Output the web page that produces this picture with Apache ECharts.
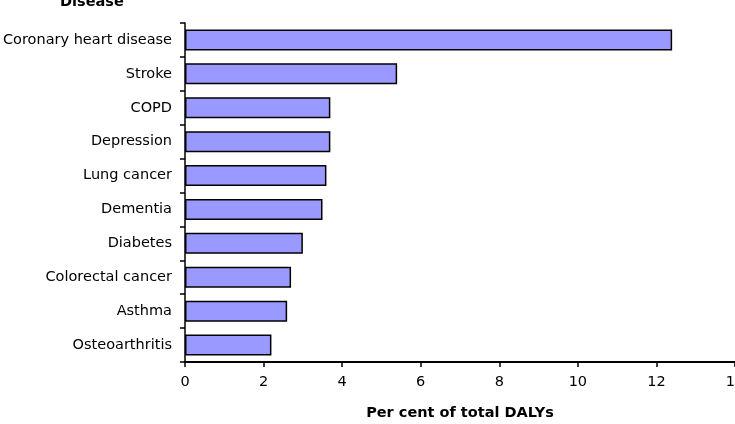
<!DOCTYPE html>
<html>
<head>
<meta charset="utf-8">
<script src="https://cdn.jsdelivr.net/npm/echarts@6/dist/echarts.min.js"></script>
<style>
  html, body { margin: 0; padding: 0; background: #fff; }
  #chart { width: 735px; height: 424px; }
</style>
</head>
<body>
<div id="chart"></div>
<script>
// Burden of disease, per cent of total DALYs
const diseases = ['Coronary heart disease', 'Stroke', 'COPD', 'Depression', 'Lung cancer',
  'Dementia', 'Diabetes', 'Colorectal cancer', 'Asthma', 'Osteoarthritis'];
const dalys = [12.4, 5.4, 3.7, 3.7, 3.6, 3.5, 3.0, 2.7, 2.6, 2.2];
const xTicks = [0, 2, 4, 6, 8, 10, 12, 14];

const font = 'DejaVu Sans, Verdana, sans-serif';

const myChart = echarts.init(document.getElementById('chart'));
myChart.setOption({
  animation: false,
  textStyle: { fontFamily: font },
  title: {
    text: 'Disease',
    left: 55,
    top: -10,
    textStyle: { fontSize: 14.5, fontWeight: 'bold', color: '#000', fontFamily: font }
  },
  grid: { left: 185, right: 0, top: 23, bottom: 62, outerBoundsMode: 'none', containLabel: false },
  xAxis: {
    type: 'value',
    min: xTicks[0],
    max: xTicks[xTicks.length - 1],
    interval: 2,
    name: 'Per cent of total DALYs',
    nameLocation: 'middle',
    nameGap: 44,
    nameTextStyle: { fontSize: 14.5, fontWeight: 'bold', color: '#000', fontFamily: font },
    axisLine: { show: true, lineStyle: { color: '#000', width: 2 } },
    axisTick: { show: true, length: 5, lineStyle: { color: '#000', width: 1.5 } },
    axisLabel: { fontSize: 14.5, color: '#000', margin: 13, fontFamily: font, showMaxLabel: true },
    splitLine: { show: false }
  },
  yAxis: {
    type: 'category',
    data: diseases,
    inverse: true,
    axisLine: { show: true, lineStyle: { color: '#000', width: 1.5 } },
    axisTick: { show: true, length: 5, lineStyle: { color: '#000', width: 1.5 } },
    axisLabel: { fontSize: 14.5, color: '#000', margin: 13, fontFamily: font }
  },
  series: [
    {
      name: 'DALYs',
      type: 'bar',
      data: dalys,
      barCategoryGap: '38%',
      itemStyle: { color: '#9999ff', borderColor: '#000', borderWidth: 1.5 }
    }
  ]
});
</script>
</body>
</html>
